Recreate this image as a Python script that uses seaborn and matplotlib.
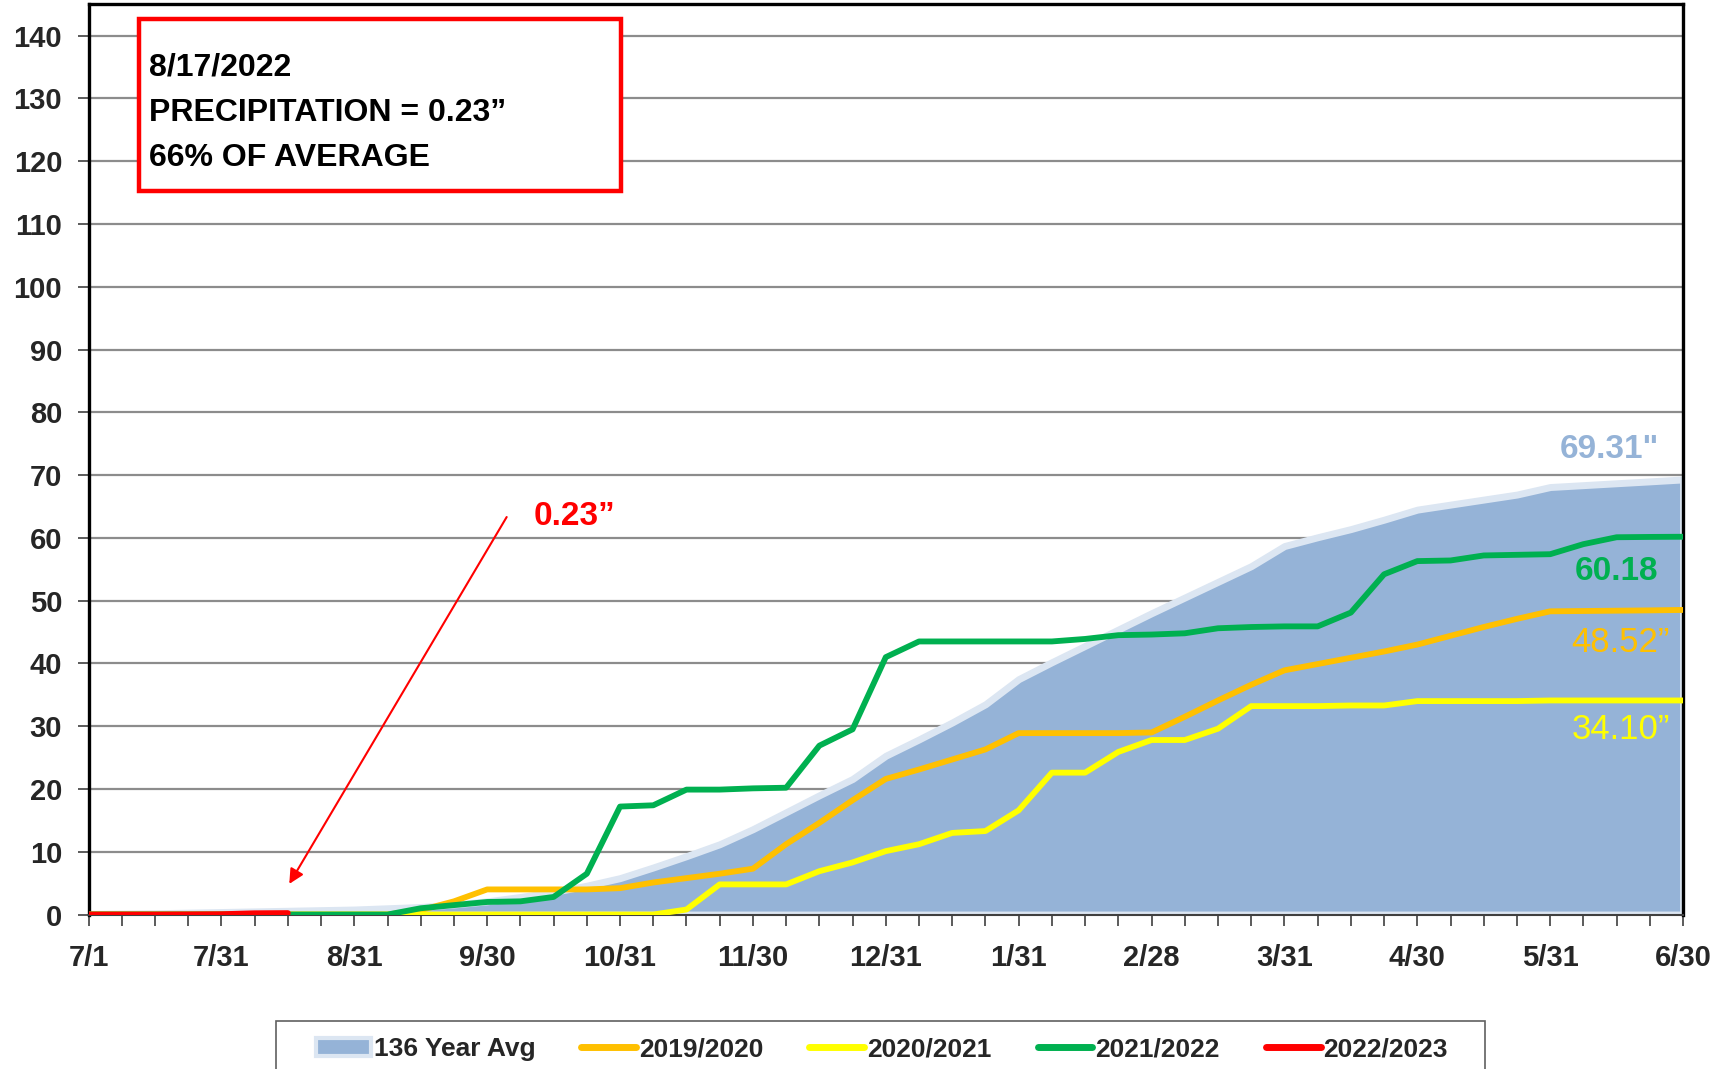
import matplotlib.pyplot as plt
import matplotlib.ticker as ticker
from matplotlib.patches import Patch, Rectangle
from matplotlib.lines import Line2D
import numpy as np
import pandas as pd
import seaborn as sns

# quarter-month steps, 7/1 .. 6/30 (49 points)
TICK_LABELS = ['7/1', '7/31', '8/31', '9/30', '10/31', '11/30', '12/31',
               '1/31', '2/28', '3/31', '4/30', '5/31', '6/30']

AVG_136 = [0.1, 0.15, 0.2, 0.3, 0.4, 0.5, 0.6, 0.7, 0.8, 1.0,
           1.2, 1.6, 2.1, 2.8, 3.6, 4.6, 5.8, 7.5, 9.3, 11.2,
           13.6, 16.3, 19.0, 21.6, 25.3, 27.9, 30.6, 33.5, 37.5, 40.2,
           42.8, 45.4, 48.0, 50.5, 53.0, 55.5, 58.7, 60.1, 61.4, 62.9,
           64.5, 65.3, 66.1, 66.9, 68.1, 68.4, 68.7, 69.0, 69.31]
Y2019 = [0, 0, 0, 0, 0, 0, 0, 0, 0, 0,
         0.7, 2.1, 4.0, 4.0, 4.0, 4.0, 4.2, 5.1, 5.8, 6.5,
         7.3, 11.2, 14.6, 18.2, 21.6, 23.1, 24.7, 26.3, 28.9, 28.9,
         28.9, 28.9, 29.0, 31.5, 34.1, 36.6, 38.9, 39.9, 40.9, 41.9,
         43.0, 44.4, 45.8, 47.1, 48.3, 48.35, 48.4, 48.45, 48.52]
Y2020 = [0, 0, 0, 0, 0, 0, 0, 0, 0, 0,
         0, 0, 0, 0, 0, 0, 0, 0, 0.8, 4.8,
         4.8, 4.8, 6.9, 8.3, 10.1, 11.2, 13.0, 13.3, 16.6, 22.6,
         22.6, 25.9, 27.8, 27.8, 29.6, 33.2, 33.2, 33.2, 33.3, 33.3,
         34.0, 34.0, 34.0, 34.0, 34.1, 34.1, 34.1, 34.1, 34.10]
Y2021 = [0, 0, 0, 0, 0, 0, 0, 0, 0, 0,
         1.0, 1.5, 2.0, 2.1, 2.8, 6.5, 17.2, 17.4, 19.9, 19.9,
         20.1, 20.2, 26.9, 29.5, 41.0, 43.5, 43.5, 43.5, 43.5, 43.5,
         43.9, 44.5, 44.6, 44.8, 45.6, 45.8, 45.9, 45.9, 48.1, 54.2,
         56.3, 56.4, 57.2, 57.3, 57.4, 59.0, 60.1, 60.15, 60.18]
Y2022 = [0, 0, 0, 0.02, 0.05, 0.2, 0.23]

SEASONS = ['2019/2020', '2020/2021', '2021/2022', '2022/2023']
COLORS = ['#FFC000', '#FFFF00', '#00B050', '#FF0000']
AVG_FILL = '#95B3D7'
AVG_EDGE = '#DCE6F2'

rows = []
for name, vals in zip(SEASONS, [Y2019, Y2020, Y2021, Y2022]):
    for i, v in enumerate(vals):
        rows.append({'idx': i, 'inches': v, 'season': name})
df = pd.DataFrame(rows)

sns.set_style('white')
plt.rcParams['font.family'] = ['Liberation Sans', 'DejaVu Sans']
plt.rcParams['font.weight'] = 'bold'

fig = plt.figure(figsize=(17.36, 10.69), dpi=100)
ax = fig.add_axes([0.051, 0.1445, 0.9185, 0.8515])

idx = np.arange(len(AVG_136))
ax.fill_between(idx, AVG_136, 0, facecolor=AVG_FILL, edgecolor=AVG_EDGE, linewidth=5, zorder=1)
sns.lineplot(data=df, x='idx', y='inches', hue='season', hue_order=SEASONS,
             palette=COLORS, linewidth=4.2, legend=False, sort=False, ax=ax, zorder=3)

ax.set_xlim(0, 48)
ax.set_ylim(0, 145)
ax.set_xlabel('')
ax.set_ylabel('')
ax.xaxis.set_major_locator(ticker.FixedLocator(np.arange(0, 49, 4)))
ax.xaxis.set_major_formatter(ticker.FixedFormatter(TICK_LABELS))
ax.xaxis.set_minor_locator(ticker.MultipleLocator(1))
ax.yaxis.set_major_locator(ticker.MultipleLocator(10))
ax.tick_params(axis='x', which='both', direction='out', length=8, width=1.2,
               color='#404040', bottom=True, labelsize=21, pad=13)
ax.tick_params(axis='y', which='major', direction='out', length=8, width=1.2,
               color='#404040', left=True, labelsize=21, pad=11)
for lab in ax.get_xticklabels() + ax.get_yticklabels():
    lab.set_fontweight('bold')
ax.yaxis.grid(True, color='#8c8c8c', linewidth=1.6)
ax.set_axisbelow(True)
for side in ['left', 'top', 'right']:
    ax.spines[side].set_color('black')
    ax.spines[side].set_linewidth(2.4)
ax.spines['bottom'].set_color('#404040')
ax.spines['bottom'].set_linewidth(1.5)

# info box
ax.add_patch(Rectangle((0.0319, 0.7944), 0.302, 0.1898, transform=ax.transAxes,
                       facecolor='white', edgecolor='#FF0000', linewidth=3.2, zorder=5))
for y, s in zip([0.9310, 0.8804, 0.8310],
                ['8/17/2022', 'PRECIPITATION = 0.23\u201d', '66% OF AVERAGE']):
    ax.text(0.0382, y, s, transform=ax.transAxes, fontsize=23, fontweight='bold',
            ha='left', va='center', color='black', zorder=6)

# arrow to current season
ax.annotate('', xy=(len(Y2022) - 1, 4.5), xytext=(12.63, 63.7),
            arrowprops=dict(arrowstyle='-|>', color='#FF0000', lw=1.5, mutation_scale=22))
ax.text(13.4, 63.4, '0.23\u201d', color='#FF0000', fontsize=24, fontweight='bold',
        ha='left', va='center')

# end values
ax.text(47.27, 74.1, '69.31"', color=AVG_FILL, fontsize=24, fontweight='bold', ha='right', va='center')
ax.text(47.25, 54.7, '60.18', color='#00B050', fontsize=24, fontweight='bold', ha='right', va='center')
ax.text(47.6, 43.3, '48.52\u201d', color='#FFC000', fontsize=25, fontweight='normal', ha='right', va='center')
ax.text(47.6, 29.4, '34.10\u201d', color='#FFFF00', fontsize=25, fontweight='normal', ha='right', va='center')

# legend frame runs off the bottom edge, as in the source
fig.add_artist(Rectangle((0.1588, -0.05), 0.6966, 0.0949, transform=fig.transFigure,
                         facecolor='none', edgecolor='#606060', linewidth=1.2))
handles = [Patch(facecolor=AVG_FILL, edgecolor=AVG_EDGE, linewidth=3, label='136 Year Avg')]
for name, c in zip(SEASONS, COLORS):
    handles.append(Line2D([0], [0], color=c, linewidth=5, label=name))
leg = fig.legend(handles=handles, loc='center', bbox_to_anchor=(0.508, 0.0185),
                 ncol=5, frameon=False, prop={'size': 19, 'weight': 'bold'},
                 handlelength=2.08, handletextpad=0.1, columnspacing=1.75,
                 borderpad=0, borderaxespad=0)

plt.savefig('out.png', dpi=100)
